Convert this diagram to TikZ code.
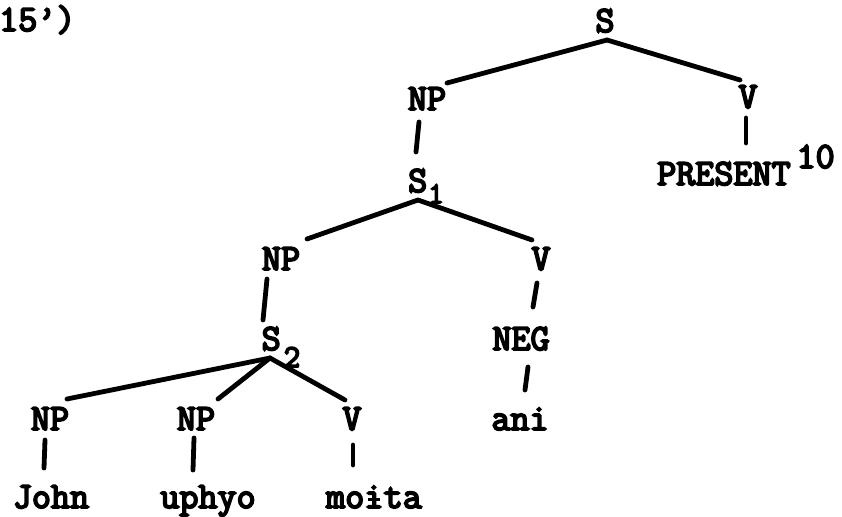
\documentclass[tikz,border=0pt]{standalone}
\usepackage{fontspec}
\setmainfont{Latin Modern Mono}[FakeBold=5]
\usetikzlibrary{calc}
\newcommand{\barredi}{\rlap{i}\makebox[0.525em]{\rule[0.2em]{0.32em}{0.08em}}}
\begin{document}
\begin{tikzpicture}[x=1pt,y=-1pt,
  lab/.style={inner sep=0pt,anchor=base,font=\fontsize{37}{37}\selectfont},
  edge/.style={line width=4.8pt,line cap=round}]
\useasboundingbox (0,0) rectangle (842,516);
\node[lab,anchor=base west] (num) at (-1,31) {15’)};
\node[lab] (S) at (605,32) {S};
\node[lab] (NPa) at (427,110) {NP};
\node[lab] (Va) at (748,108) {V};
\node[lab,anchor=base west] (PRES) at (657,185) {PRESENT\hspace{6pt}\raisebox{17pt}{10}};
\node[lab,anchor=base west] (S1) at (408,192) {S\hspace{1pt}\raisebox{-11pt}{\fontsize{30}{30}\selectfont 1}};
\node[lab] (NPb) at (281,270) {NP};
\node[lab] (Vb) at (541,270) {V};
\node[lab,anchor=base west] (S2) at (261.5,350) {S\hspace{3pt}\raisebox{-17pt}{\fontsize{32}{32}\selectfont 2}};
\node[lab] (NEG) at (521,350) {NEG};
\node[lab] (ani) at (520,430) {ani};
\node[lab] (NPc) at (50,430) {NP};
\node[lab] (NPd) at (196,430) {NP};
\node[lab] (Vc) at (352,430) {V};
\node[lab] (John) at (51,508) {John};
\node[lab] (uphyo) at (208,508) {uphyo};
\node[lab] (moita) at (374,508) {mo\barredi ta};
% top level
\draw[edge] ($(S.base)+(2,8)$) -- ($(NPa.base)+(20,-27)$);
\draw[edge] ($(S.base)+(2,8)$) -- ($(Va.base)+(-8,-28)$);
\draw[edge] ($(NPa.base)+(-8,12)$) -- ($(S1.base west)+(8,-40)$);
\draw[edge] ($(Va.base)+(-2,10)$) -- ($(PRES.base west)+(89,-42)$);
% S1
\draw[edge] ($(S1.base west)+(10,8)$) -- ($(NPb.base)+(26,-31)$);
\draw[edge] ($(S1.base west)+(10,8)$) -- ($(Vb.base)+(-9,-30)$);
\draw[edge] ($(NPb.base)+(-14,9)$) -- ($(S2.base west)+(1.5,-30)$);
\draw[edge] ($(Vb.base)+(-4,13)$) -- ($(NEG.base)+(12,-43)$);
\draw[edge] ($(NEG.base)+(7,17)$) -- ($(ani.base)+(5,-40)$);
% S2
\draw[edge] ($(S2.base west)+(8.5,8)$) -- ($(NPc.base)+(17,-31)$);
\draw[edge] ($(S2.base west)+(8.5,8)$) -- ($(NPd.base)+(22,-31)$);
\draw[edge] ($(S2.base west)+(8.5,8)$) -- ($(Vc.base)+(-7,-30)$);
\draw[edge] ($(NPc.base)+(-5,10)$) -- ($(John.base)+(-7,-40)$);
\draw[edge] ($(NPd.base)+(-2,8)$) -- ($(uphyo.base)+(-15,-38)$);
\draw[edge] ($(Vc.base)+(1,15)$) -- ($(moita.base)+(-21,-43)$);
\end{tikzpicture}
\end{document}
